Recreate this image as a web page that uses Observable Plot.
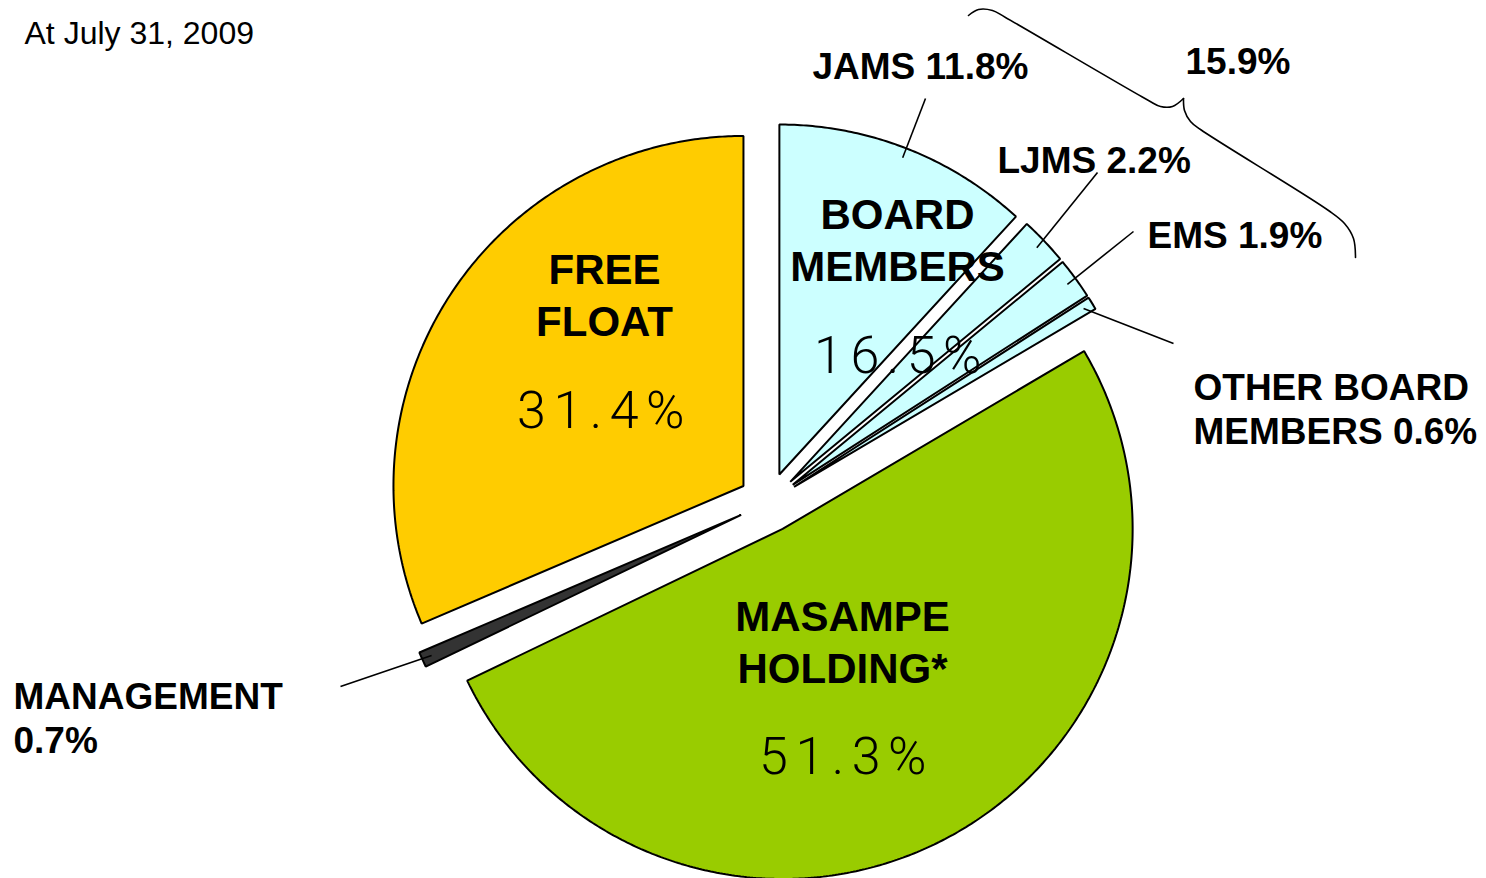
<!DOCTYPE html>
<html>
<head>
<meta charset="utf-8">
<script src="https://cdn.jsdelivr.net/npm/d3@7"></script>
<script src="https://cdn.jsdelivr.net/npm/@observablehq/plot@0.6"></script>
<style>
  html, body { margin: 0; padding: 0; background: #ffffff; }
  #chart svg { display: block; }
</style>
</head>
<body>
<div id="chart"></div>
<script>
// ---------------- DATA ----------------
const holders = ["JAMS", "LJMS", "EMS", "OTHER BOARD MEMBERS", "MASAMPE HOLDING*", "MANAGEMENT", "FREE FLOAT"];
const shares = [11.8, 2.2, 1.9, 0.6, 51.3, 0.7, 31.4];
const holderGroups = ["BOARD MEMBERS", "BOARD MEMBERS", "BOARD MEMBERS", "BOARD MEMBERS", "MASAMPE HOLDING*", "MANAGEMENT", "FREE FLOAT"];
const groupNames = ["BOARD MEMBERS", "MASAMPE HOLDING*", "FREE FLOAT"];
const groupShares = [16.5, 51.3, 31.4];
const bracketHolders = ["JAMS", "LJMS", "EMS"];
const bracketShare = 15.9;
const dateLabel = "At July 31, 2009";

// ---------------- STYLE / LAYOUT ----------------
const W = 1486, H = 878;
const CX = 768, CY = 502, R = 350, EXPLODE = 30, LEADER_R = 340;
const groupColor = {
  "BOARD MEMBERS": "#CCFFFF",
  "MASAMPE HOLDING*": "#99CC00",
  "MANAGEMENT": "#333333",
  "FREE FLOAT": "#FFCC00"
};
// label anchors (baseline of last line)
const groupLabelPos = {
  "BOARD MEMBERS": {x: 897, y: 280, py: 372, px: 901},
  "MASAMPE HOLDING*": {x: 842, y: 682, py: 773, px: 846},
  "FREE FLOAT": {x: 604, y: 335, py: 427, px: 604}
};
const outerLabelPos = {
  "JAMS": {x: 812, y: 78, lx: 925, ly: 98},
  "LJMS": {x: 997, y: 172, lx: 1097, ly: 172},
  "EMS": {x: 1147, y: 247, lx: 1133, ly: 231},
  "OTHER BOARD MEMBERS": {x: 1193, y: 443, lx: 1173, ly: 343, text: "OTHER BOARD\nMEMBERS"},
  "MANAGEMENT": {x: 13, y: 752, lx: 340, ly: 686, text: "MANAGEMENT\n"}
};
// curly bracket annotation path (pixel layout)
const bracePath = [
  [[968, 15], [978, 9], [992, 10], [1005, 17], [1148, 100], [1160, 106], [1172, 106], [1183, 98]],
  [[1183, 98], [1184, 110], [1190, 121], [1200, 129], [1328, 210], [1344, 223], [1353, 238], [1355, 257]]
];
const bracePos = {x: 1185, y: 73};

// ---------------- GEOMETRY ----------------
const pt = (x, y, a, r) => [x + r * Math.sin(a), y - r * Math.cos(a)];
const arcs = d3.pie().sort(null).value(d => d.share)(
  holders.map((h, i) => ({holder: h, share: shares[i], group: holderGroups[i]}))
);
const slicePts = [];
const wedges = arcs.map(a => {
  const mid = (a.startAngle + a.endAngle) / 2;
  const [ax, ay] = pt(CX, CY, mid, EXPLODE);
  const color = groupColor[a.data.group];
  slicePts.push({holder: a.data.holder, color, x: ax, y: ay});
  const n = Math.max(2, Math.ceil((a.endAngle - a.startAngle) / (Math.PI / 360)));
  for (let k = 0; k <= n; ++k) {
    const t = a.startAngle + (a.endAngle - a.startAngle) * k / n;
    const [x, y] = pt(ax, ay, t, R);
    slicePts.push({holder: a.data.holder, color, x, y});
  }
  return {holder: a.data.holder, share: a.data.share, mid, ax, ay};
});

const leaders = wedges.filter(w => outerLabelPos[w.holder]).map(w => {
  const [x1, y1] = pt(w.ax, w.ay, w.mid, LEADER_R);
  const p = outerLabelPos[w.holder];
  return {x1, y1, x2: p.lx, y2: p.ly};
});

const outerTexts = wedges.filter(w => outerLabelPos[w.holder]).map(w => {
  const p = outerLabelPos[w.holder];
  const name = p.text ?? w.holder;
  const sep = name.endsWith("\n") ? "" : " ";
  return {text: `${name}${sep}${w.share.toFixed(1)}%`, x: p.x, y: p.y};
});
outerTexts.push({text: `${bracketShare.toFixed(1)}%`, x: bracePos.x, y: bracePos.y});

const groupTexts = groupNames.map((g, i) => ({
  text: g.replace(" ", "\n"), x: groupLabelPos[g].x, y: groupLabelPos[g].y
}));
const pctTexts = groupNames.map((g, i) => ({
  text: `${groupShares[i].toFixed(1)}%`, x: groupLabelPos[g].px, y: groupLabelPos[g].py
}));

const braceData = bracePath.flatMap((seg, s) => seg.map(([x, y]) => ({s, x, y})));

const boldFont = "'Liberation Sans', Arial, Helvetica, sans-serif";

const chart = Plot.plot({
  width: W,
  height: H,
  margin: 0,
  x: {domain: [0, W], range: [0, W], axis: null},
  y: {domain: [0, H], range: [0, H], axis: null},
  color: {type: "identity"},
  style: {background: "#ffffff", overflow: "visible"},
  marks: [
    Plot.line(slicePts, {x: "x", y: "y", z: "holder", fill: "color", stroke: "#000000", strokeWidth: 2, curve: "linear-closed", strokeLinejoin: "miter"}),
    Plot.link(leaders, {x1: "x1", y1: "y1", x2: "x2", y2: "y2", stroke: "#000000", strokeWidth: 1.6}),
    Plot.line(braceData, {x: "x", y: "y", z: "s", stroke: "#000000", strokeWidth: 1.6, curve: "catmull-rom"}),
    Plot.text([{text: dateLabel, x: 24, y: 43}], {x: "x", y: "y", text: "text", textAnchor: "start", lineAnchor: "bottom", fontSize: 32, fontFamily: boldFont, fill: "#000000"}),
    Plot.text(outerTexts, {x: "x", y: "y", text: "text", textAnchor: "start", lineAnchor: "bottom", lineHeight: 1.18, fontSize: 37, fontWeight: "bold", fontFamily: boldFont, fill: "#000000"}),
    Plot.text(groupTexts, {x: "x", y: "y", text: "text", textAnchor: "middle", lineAnchor: "bottom", lineHeight: 1.22, fontSize: 42, fontWeight: "bold", fontFamily: boldFont, fill: "#000000"}),
    Plot.text(pctTexts, {x: "x", y: "y", text: "text", textAnchor: "middle", lineAnchor: "bottom", fontSize: 52, fontWeight: 300, fontFamily: "Roboto, 'Open Sans', sans-serif", fill: "#000000"})
  ]
});
d3.select(chart).selectAll("text").filter(function () {
  return pctTexts.some(p => p.text === this.textContent);
}).attr("letter-spacing", "7.5px");
document.getElementById("chart").appendChild(chart);
</script>
</body>
</html>
